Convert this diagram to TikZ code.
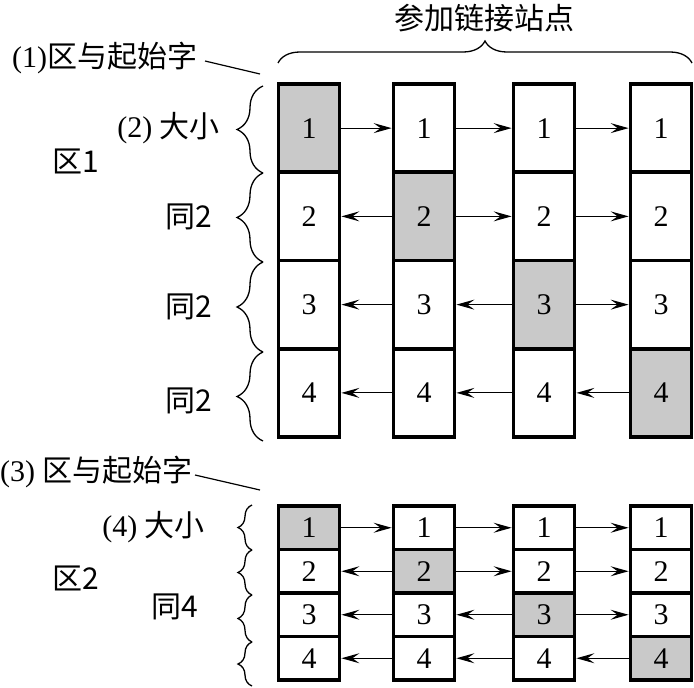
\documentclass[tikz,border=0pt]{standalone}
\usepackage{fontspec}
\setmainfont{Liberation Serif}
\newfontfamily\cjk{Noto Sans CJK SC}
\usetikzlibrary{arrows.meta,decorations.pathreplacing}
\begin{document}
\begin{tikzpicture}[x=1pt,y=-1pt,
  cell/.style={draw=black, line width=3.8pt, minimum width=61pt, inner sep=0pt,
    font=\fontsize{30}{30}\selectfont, text height=20pt, text depth=0pt},
  big/.style={cell, minimum height=88.25pt},
  small/.style={cell, minimum height=43.5pt},
  shaded/.style={fill=black!21},
  plain/.style={fill=white},
  arr/.style={-{Stealth[length=18pt,width=10pt,inset=7pt]}, line width=1.2pt},
  lbl/.style={font=\fontsize{30}{31}\selectfont, inner sep=0pt},
  brc/.style={decorate, decoration={brace, amplitude=#1}, line width=1.3pt},
  leader/.style={line width=1.2pt},
]
\useasboundingbox (0,0) rectangle (694,688);

% top section cells
\foreach \c/\x in {1/309,2/424,3/544,4/661} {
  \foreach \r in {1,...,4} {
    \pgfmathsetmacro\yy{84+88.25*(\r-0.5)}
    \ifnum\r=\c\def\ff{shaded}\else\def\ff{plain}\fi
    \node[big,\ff] (a\r\c) at (\x,\yy) {\r};
  }
}
% bottom section cells
\foreach \c/\x in {1/309,2/424,3/544,4/661} {
  \foreach \r in {1,...,4} {
    \pgfmathsetmacro\yy{506+43.5*(\r-0.5)}
    \ifnum\r=\c\def\ff{shaded}\else\def\ff{plain}\fi
    \node[small,\ff] (b\r\c) at (\x,\yy) {\r};
  }
}
% arrows
\foreach \r in {1,...,4} {
  \foreach \c in {1,2,3} {
    \pgfmathtruncatemacro\nn{\c+1}
    \ifnum\c<\r
      \draw[arr] (a\r\nn.west) -- (a\r\c.east);
      \draw[arr] (b\r\nn.west) -- (b\r\c.east);
    \else
      \draw[arr] (a\r\c.east) -- (a\r\nn.west);
      \draw[arr] (b\r\c.east) -- (b\r\nn.west);
    \fi
  }
}

% top brace and title
\coordinate (tbl) at (278,63);
\coordinate (tbr) at (692,63);
\draw[brc=22] (tbl) -- (tbr);
\node[lbl] (title) at (484,18) {\cjk 参加链接站点};

% left braces, top section
\foreach \i/\ya/\yb in {1/86/173,2/173/262,3/262/352,4/352/441} {
  \coordinate (ua\i) at (263,\ya);
  \coordinate (ub\i) at (263,\yb);
  \draw[brc=26] (ub\i) -- (ua\i);
}
% left braces, bottom section
\foreach \i/\ya/\yb in {1/505/550,2/550/595,3/595/642,4/642/686} {
  \coordinate (va\i) at (252,\ya);
  \coordinate (vb\i) at (252,\yb);
  \draw[brc=14] (vb\i) -- (va\i);
}

% labels, top section
\node[lbl, anchor=west] (t1) at (12,58) {(1){\cjk 区与起始字}};
\coordinate (l1a) at (205,61);
\coordinate (l1b) at (260,74);
\draw[leader] (l1a) -- (l1b);
\node[lbl, anchor=east] (t2) at (220,128) {(2) {\cjk 大小}};
\node[lbl, anchor=west] (z1) at (52,161) {\cjk 区1};
\node[lbl, anchor=east] (s2) at (212,217) {\cjk 同2};
\node[lbl, anchor=east] (s3) at (212,307) {\cjk 同2};
\node[lbl, anchor=east] (s4) at (212,401) {\cjk 同2};

% labels, bottom section
\node[lbl, anchor=west] (t3) at (0,472) {(3) {\cjk 区与起始字}};
\coordinate (l3a) at (195,475);
\coordinate (l3b) at (260,490);
\draw[leader] (l3a) -- (l3b);
\node[lbl, anchor=east] (t4) at (205,527) {(4) {\cjk 大小}};
\node[lbl, anchor=west] (z2) at (52,578) {\cjk 区2};
\node[lbl, anchor=east] (s5) at (198,607) {\cjk 同4};
\end{tikzpicture}
\end{document}
